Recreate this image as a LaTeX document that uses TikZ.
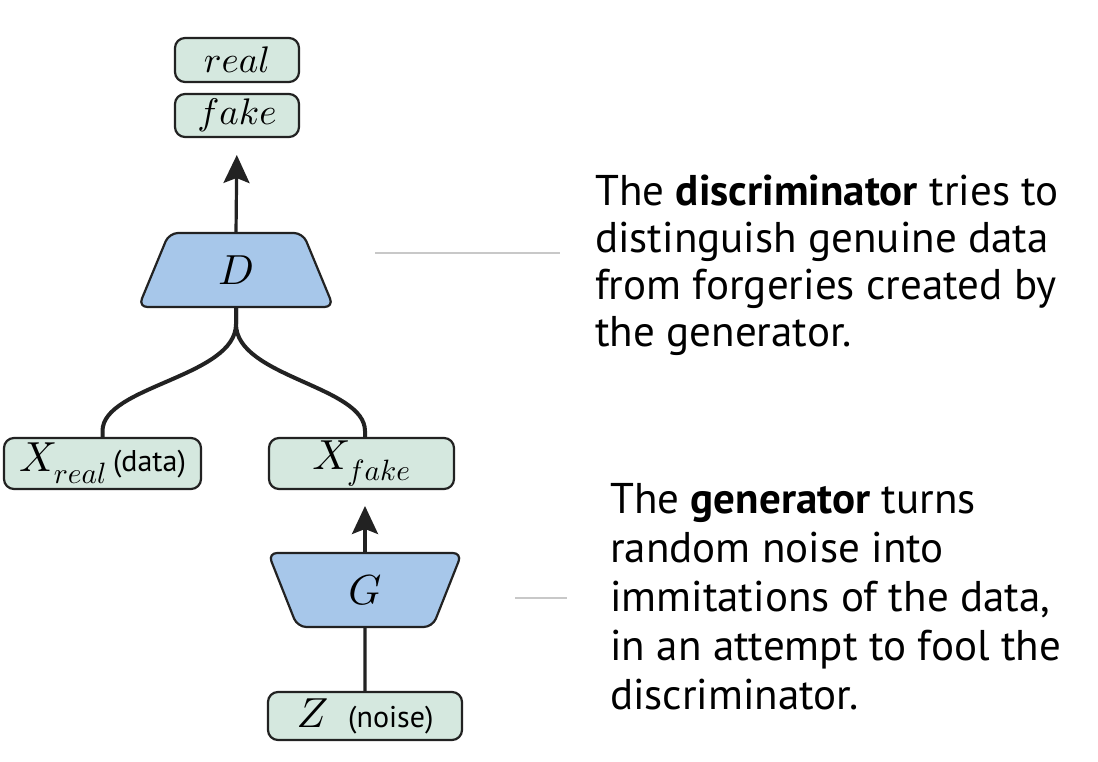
\documentclass[tikz,border=0pt]{standalone}
\usepackage{fontspec}
\setmainfont{PT Sans}
\DeclareFontShape{OML}{cmm}{m}{it}{<-> cmmi10}{}
\usetikzlibrary{shapes.geometric,arrows.meta}
\definecolor{boxfill}{HTML}{D5E8DF}
\definecolor{trapfill}{HTML}{A7C7EA}
\definecolor{edgecol}{HTML}{222222}
\definecolor{leadercol}{HTML}{C8C8C8}
\begin{document}
\begin{tikzpicture}[x=1pt,y=-1pt,
  outbox/.style={draw=edgecol, fill=boxfill, line width=2.2pt, rounded corners=10pt,
    inner sep=0pt, outer sep=0pt},
  net/.style={trapezium, trapezium stretches=true, draw=edgecol, fill=trapfill,
    line width=2.2pt, rounded corners=9pt, inner sep=0pt, outer sep=0pt},
  flow/.style={draw=edgecol, line width=3.2pt, -{Stealth[length=28pt,width=26pt,inset=5pt]}},
  plainflow/.style={draw=edgecol, line width=3.2pt},
  stem/.style={draw=edgecol, line width=4pt},
  leader/.style={draw=leadercol, line width=1.5pt},
  desc/.style={align=left, inner sep=0pt, anchor=base west},
  bigmath/.style={font=\fontsize{42}{42}\selectfont},
  smallmath/.style={font=\fontsize{37}{37}\selectfont},
  note/.style={font=\fontsize{30}{30}\selectfont}
]
\useasboundingbox (0,0) rectangle (1098,762);

% output boxes
\node[outbox, smallmath, minimum width=124pt, minimum height=44pt] (real) at (237,60) {$real$};
\node[outbox, smallmath, minimum width=124pt, minimum height=43pt] (fake) at (237,115.5) {$fake$};

% discriminator and generator
\node[net, bigmath, minimum width=196pt, minimum height=74pt,
  trapezium left angle=74, trapezium right angle=74] (D) at (236,270) {$D$};
\node[net, bigmath, minimum width=194pt, minimum height=74pt,
  trapezium left angle=104, trapezium right angle=104] (G) at (365,590) {$G$};

% data boxes
\node[outbox, bigmath, minimum width=197pt, minimum height=51pt] (xr) at (102.5,463.5)
  {$X_{real}$\hspace{6pt}{\fontsize{30}{30}\selectfont (data)}};
\node[outbox, bigmath, minimum width=185pt, minimum height=51pt] (xf) at (361.5,463.5)
  {$X_{fake}$};
\node[outbox, bigmath, minimum width=194pt, minimum height=48pt] (Z) at (365,716)
  {$Z$\hspace{20pt}{\fontsize{30}{30}\selectfont (noise)}};

% connectors
\draw[flow, shorten >=18pt] (D.north) -- (fake.south);
\draw[stem] (D.south) -- ++(0,17) .. controls +(0,53) and +(0,-45) .. ([yshift=7pt]xr.north) -- (xr.north);
\draw[stem] (D.south) -- ++(0,17) .. controls +(0,53) and +(0,-45) .. ([xshift=3.5pt,yshift=7pt]xf.north) -- ([xshift=3.5pt]xf.north);
\draw[flow, shorten >=17pt] (G.north) -- (G.north |- xf.south);
\draw[plainflow] (Z.north) -- (G.south);

% leader lines
\coordinate (dl1) at (375,253);
\coordinate (dl2) at (560,253);
\draw[leader] (dl1) -- (dl2);
\coordinate (gl1) at (515,598);
\coordinate (gl2) at (567,598);
\draw[leader] (gl1) -- (gl2);

% descriptions (anchor base = baseline of last line)
\node[desc, font=\fontsize{43}{47}\selectfont] (dtext) at (595,346) {The \textbf{discriminator} tries to\\distinguish genuine data\\from forgeries created by\\the generator.};
\node[desc, font=\fontsize{43}{49}\selectfont] (gtext) at (610,709) {The \textbf{generator} turns\\random noise into\\immitations of the data,\\in an attempt to fool the\\discriminator.};
\end{tikzpicture}
\end{document}
